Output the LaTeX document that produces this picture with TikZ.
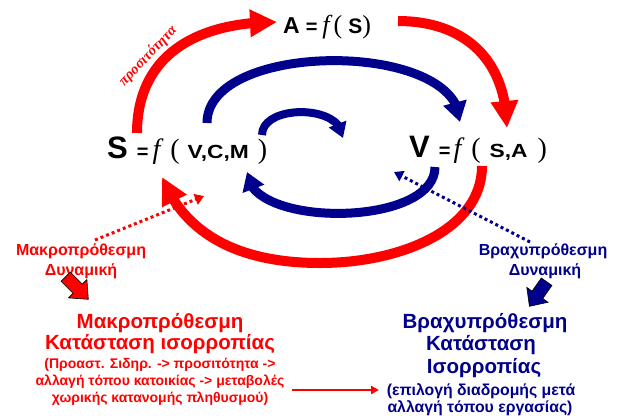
\documentclass[tikz,border=0pt]{standalone}
\usepackage{fontspec}
\usepackage{graphicx}
\setmainfont{Liberation Sans}
\newfontfamily\serifit{Liberation Serif}
\usetikzlibrary{arrows.meta,bending}
\definecolor{myred}{RGB}{255,0,0}
\definecolor{navy}{RGB}{0,0,140}
\newcommand{\bigL}[1]{{\fontsize{31}{31}\selectfont\bfseries #1}}
\newcommand{\midL}[1]{{\fontsize{20}{20}\selectfont\bfseries #1}}
\newcommand{\wideL}[1]{\scalebox{1.2}[1]{\fontsize{19}{19}\selectfont\bfseries #1}}
\newcommand{\fun}{{\serifit\fontsize{28}{28}\selectfont\itshape f}}
\newcommand{\lpar}{{\serifit\fontsize{28}{28}\selectfont (}}
\newcommand{\rpar}{{\serifit\fontsize{28}{28}\selectfont )}}
\begin{document}
\begin{tikzpicture}[x=1pt,y=-1pt,
  every node/.style={inner sep=0pt},
  lbl/.style={font=\fontsize{16}{16}\selectfont\bfseries, anchor=base},
  bigtxt/.style={font=\fontsize{20.5}{20.5}\selectfont\bfseries, anchor=base},
  subtxt/.style={font=\fontsize{14}{14}\selectfont\bfseries, anchor=base},
  subtxtb/.style={font=\fontsize{15.8}{15.8}\selectfont\bfseries, anchor=base},
  redarc/.style={draw=myred, line width=10pt, -{Triangle[length=27pt,width=26pt]}},
  bluearc/.style={draw=navy, line width=9pt},
  dotarrow/.style={line width=3pt, dash pattern=on 3pt off 3pt, -{Triangle[length=9pt,width=11pt]}},
  blockarrow/.style={draw=black, line width=0.6pt}
]
\useasboundingbox (0,0) rectangle (617,415);

% formula nodes
\node[anchor=base west] (Sf) at (107,158)
  {\bigL{S}\hspace{9pt}\midL{=}\hspace{4pt}\fun\hspace{10pt}\lpar\hspace{8pt}\wideL{V,C,M}\hspace{9pt}\rpar};
\node[anchor=base west] (Af) at (283,33)
  {{\fontsize{23}{23}\selectfont\bfseries A}\hspace{6pt}\midL{=}\hspace{5pt}{\serifit\fontsize{26}{26}\selectfont\itshape f}\hspace{4pt}{\serifit\fontsize{26}{26}\selectfont (}\hspace{6pt}{\fontsize{21}{21}\selectfont\bfseries S}{\serifit\fontsize{26}{26}\selectfont )}};
\node[anchor=base west] (Vf) at (409,157)
  {\bigL{V}\hspace{9pt}\midL{=}\hspace{3pt}\fun\hspace{10pt}\lpar\hspace{9pt}\wideL{S,A}\hspace{10pt}\rpar};

% connector end points
\coordinate (s1) at (137,133);
\coordinate (a1) at (277,22);
\coordinate (a2) at (398,21);
\coordinate (v1) at (507,128);
\coordinate (v2) at (482,166);
\coordinate (bm) at (320,263);
\coordinate (s2) at (162,177);
\coordinate (b1) at (207,123);
\coordinate (b2) at (460,122);
\coordinate (c1) at (262,135);
\coordinate (c2) at (343,138);
\coordinate (d1) at (435,167);
\coordinate (d2) at (247,172);

% red arcs
\draw[redarc] (s1) .. controls (137,60) and (190,22) .. (a1);
\draw[redarc] (a2) .. controls (460,21) and (506,55) .. (v1);
\draw[redarc] (v2) .. controls (482,230) and (400,263) .. (bm) .. controls (240,263) and (185,235) .. (s2);

% blue arcs
\draw[bluearc, -{Triangle[length=20pt,width=23pt]}] (b1) .. controls (207,40) and (460,40) .. (b2);
\draw[bluearc, line width=8pt, -{Triangle[length=15pt,width=18pt]}] (c1) .. controls (262,104) and (343,104) .. (c2);
\draw[bluearc, -{Triangle[length=18pt,width=22pt]}] (d1) .. controls (435,228) and (247,228) .. (d2);

% label on arc
\node[myred, rotate=46, font={\serifit\fontsize{14.5}{14.5}\selectfont\bfseries\itshape}] (acc) at (148,56) {προσιτότητα};

% left (red) texts
\node[lbl, myred] (rl1) at (81,255) {Μακροπρόθεσμη};
\node[lbl, myred] (rl2) at (81,275) {Δυναμική};
\node[bigtxt, myred] (rb1) at (160,328) {Μακροπρόθεσμη};
\node[bigtxt, myred] (rb2) at (160,349) {Κατάσταση ισορροπίας};
\node[subtxt, myred] (rs1) at (160,368) {(Προαστ. Σιδηρ. -> προσιτότητα ->};
\node[subtxt, myred] (rs2) at (160,385) {αλλαγή τόπου κατοικίας -> μεταβολές};
\node[subtxt, myred] (rs3) at (160,402) {χωρικής κατανομής πληθυσμού)};

% right (blue) texts
\node[lbl, navy] (bl1) at (543,255) {Βραχυπρόθεσμη};
\node[lbl, navy] (bl2) at (545,275) {Δυναμική};
\node[bigtxt, navy] (bb1) at (485,328) {Βραχυπρόθεσμη};
\node[bigtxt, navy] (bb2) at (481,350) {Κατάσταση};
\node[bigtxt, navy] (bb3) at (484,373) {Ισορροπίας};
\node[subtxtb, navy] (bs1) at (481,395) {(επιλογή διαδρομής μετά};
\node[subtxtb, navy] (bs2) at (480,412) {αλλαγή τόπου εργασίας)};

% dotted arrows
\coordinate (rd1) at (95,240);
\coordinate (rd2) at (204,196);
\coordinate (bd1) at (530,242);
\coordinate (bd2) at (394,172);
\draw[dotarrow, myred] (rd1) -- (rd2);
\draw[dotarrow, navy] (bd1) -- (bd2);

% thin red arrow
\coordinate (t1) at (292,390);
\coordinate (t2) at (379,390);
\draw[myred, line width=2pt, -{Triangle[length=8pt,width=8pt]}] (t1) -- (t2);

% block arrows
\begin{scope}[shift={(77,288)}, rotate=-45]
  \filldraw[blockarrow, fill=myred] (-16,-6.5) -- (1,-6.5) -- (1,-13) -- (16,0) -- (1,13) -- (1,6.5) -- (-16,6.5) -- cycle;
\end{scope}
\begin{scope}[shift={(538,294)}, rotate=-125]
  \filldraw[blockarrow, fill=navy] (-15,-6.5) -- (1,-6.5) -- (1,-13) -- (15,0) -- (1,13) -- (1,6.5) -- (-15,6.5) -- cycle;
\end{scope}
\end{tikzpicture}
\end{document}
